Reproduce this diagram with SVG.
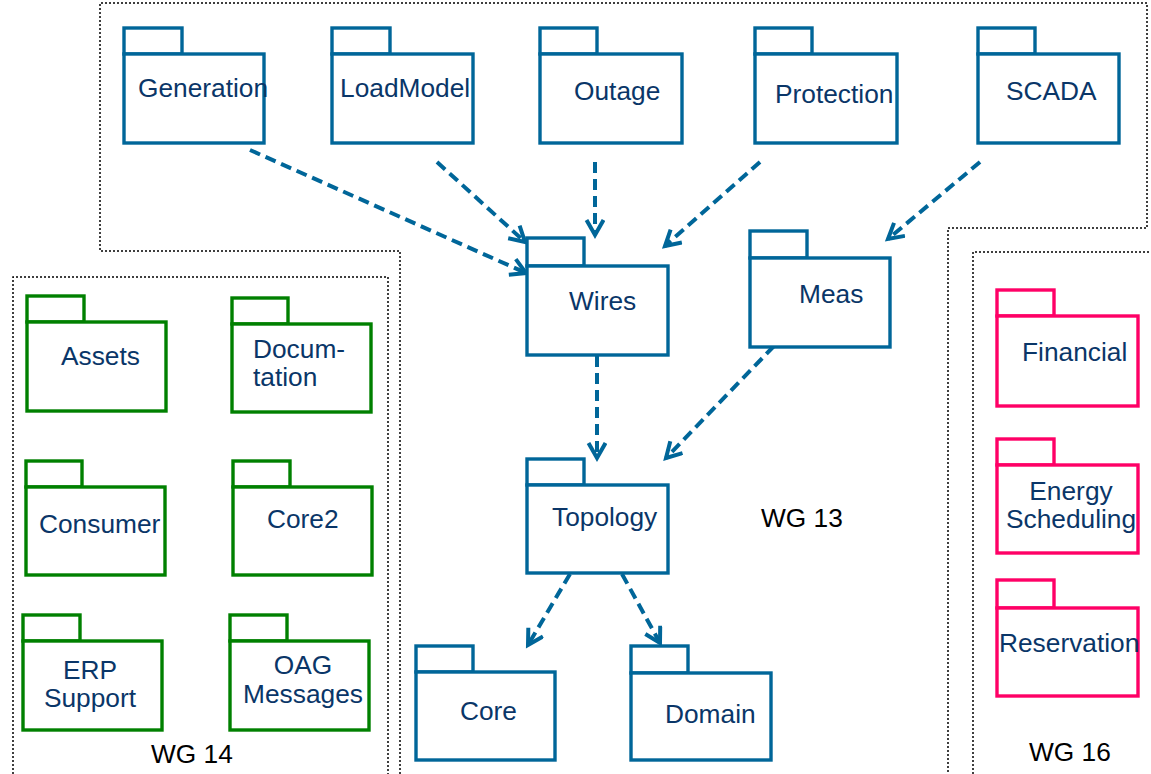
<svg xmlns="http://www.w3.org/2000/svg" width="1151" height="774" viewBox="0 0 1151 774">
<style>
.b rect{fill:#fff;stroke:#006699;stroke-width:3.4}
.g rect{fill:#fff;stroke:#008000;stroke-width:3.4}
.p rect{fill:#fff;stroke:#ff0066;stroke-width:3.4}
text{font-family:"Liberation Sans",Arial,sans-serif;font-size:26.3px;fill:#0a3668}
.wg{fill:#000}
.border{fill:none;stroke:#000;stroke-width:1.5;stroke-dasharray:2 2}
.dep{fill:none;stroke:#006699;stroke-width:4;stroke-dasharray:11 6;marker-end:url(#arr)}
</style>
<defs>
<marker id="arr" markerUnits="userSpaceOnUse" markerWidth="26" markerHeight="26" refX="17" refY="10" orient="auto">
<path d="M2,1.5 L17,10 L2,18.5" fill="none" stroke="#006699" stroke-width="4" stroke-dasharray="none"/>
</marker>
</defs>
<g id="borders">
<path class="border" d="M400,774 L400,251 L100,251 L100,3 L1147,3 L1147,228 L948,228 L948,774"/>
<path class="border" d="M13,774 L13,277 L388,277 L388,774"/>
<path class="border" d="M973,774 L973,252 L1151,252"/>
<text class="wg" x="761" y="527">WG 13</text>
<text class="wg" x="151" y="763">WG 14</text>
<text class="wg" x="1029" y="761">WG 16</text>
</g>
<g id="connectors">
<line class="dep" x1="250" y1="150" x2="526" y2="273"/>
<line class="dep" x1="437" y1="162" x2="525" y2="242"/>
<line class="dep" x1="595" y1="162" x2="595" y2="235"/>
<line class="dep" x1="760" y1="162" x2="665" y2="246"/>
<line class="dep" x1="980" y1="162" x2="888" y2="239"/>
<line class="dep" x1="597" y1="356" x2="597" y2="458"/>
<line class="dep" x1="774" y1="346" x2="666" y2="458"/>
<line class="dep" x1="570" y1="574" x2="528" y2="645"/>
<line class="dep" x1="622" y1="574" x2="660" y2="643"/>
</g>
<g id="Generation" class="b"><rect x="124" y="28" width="58" height="26"/><rect x="124" y="54" width="140" height="89"/><text x="138" y="97">Generation</text></g>
<g id="LoadModel" class="b"><rect x="332" y="28" width="58" height="26"/><rect x="332" y="54" width="141" height="89"/><text x="340" y="97">LoadModel</text></g>
<g id="Outage" class="b"><rect x="540" y="28" width="57" height="26"/><rect x="540" y="54" width="142" height="89"/><text x="574" y="100">Outage</text></g>
<g id="Protection" class="b"><rect x="755" y="28" width="57" height="26"/><rect x="755" y="54" width="142" height="89"/><text x="775" y="103">Protection</text></g>
<g id="SCADA" class="b"><rect x="978" y="28" width="57" height="26"/><rect x="978" y="54" width="141" height="89"/><text x="1006" y="100">SCADA</text></g>
<g id="Wires" class="b"><rect x="527" y="238" width="57" height="28"/><rect x="527" y="266" width="141" height="89"/><text x="569" y="310">Wires</text></g>
<g id="Meas" class="b"><rect x="750" y="231" width="57" height="27"/><rect x="750" y="258" width="140" height="89"/><text x="799" y="303">Meas</text></g>
<g id="Topology" class="b"><rect x="527" y="459" width="57" height="26"/><rect x="527" y="485" width="141" height="88"/><text x="552" y="526">Topology</text></g>
<g id="Core" class="b"><rect x="416" y="646" width="57" height="26"/><rect x="416" y="672" width="139" height="88"/><text x="460" y="720">Core</text></g>
<g id="Domain" class="b"><rect x="631" y="646" width="57" height="27"/><rect x="631" y="673" width="140" height="87"/><text x="665" y="723">Domain</text></g>
<g id="Assets" class="g"><rect x="27" y="296" width="57" height="26"/><rect x="27" y="322" width="139" height="89"/><text x="61" y="365">Assets</text></g>
<g id="Documentation" class="g"><rect x="232" y="298" width="56" height="26"/><rect x="232" y="324" width="139" height="88"/><text x="253" y="358">Docum-</text><text x="253" y="386">tation</text></g>
<g id="Consumer" class="g"><rect x="26" y="461" width="56" height="26"/><rect x="26" y="487" width="139" height="88"/><text x="39" y="533">Consumer</text></g>
<g id="Core2" class="g"><rect x="233" y="461" width="57" height="26"/><rect x="233" y="487" width="139" height="88"/><text x="267" y="528">Core2</text></g>
<g id="ERPSupport" class="g"><rect x="23" y="615" width="57" height="26"/><rect x="23" y="641" width="139" height="89"/><text x="90" y="679" text-anchor="middle">ERP</text><text x="90" y="707" text-anchor="middle">Support</text></g>
<g id="OAGMessages" class="g"><rect x="230" y="615" width="57" height="26"/><rect x="230" y="641" width="139" height="89"/><text x="303" y="674" text-anchor="middle">OAG</text><text x="303" y="703" text-anchor="middle">Messages</text></g>
<g id="Financial" class="p"><rect x="997" y="290" width="57" height="26"/><rect x="997" y="316" width="141" height="90"/><text x="1022" y="361">Financial</text></g>
<g id="EnergyScheduling" class="p"><rect x="997" y="439" width="57" height="26"/><rect x="997" y="465" width="141" height="88"/><text x="1071" y="500" text-anchor="middle">Energy</text><text x="1006" y="528">Scheduling</text></g>
<g id="Reservation" class="p"><rect x="997" y="580" width="57" height="28"/><rect x="997" y="608" width="141" height="88"/><text x="999" y="652">Reservation</text></g>
</svg>
